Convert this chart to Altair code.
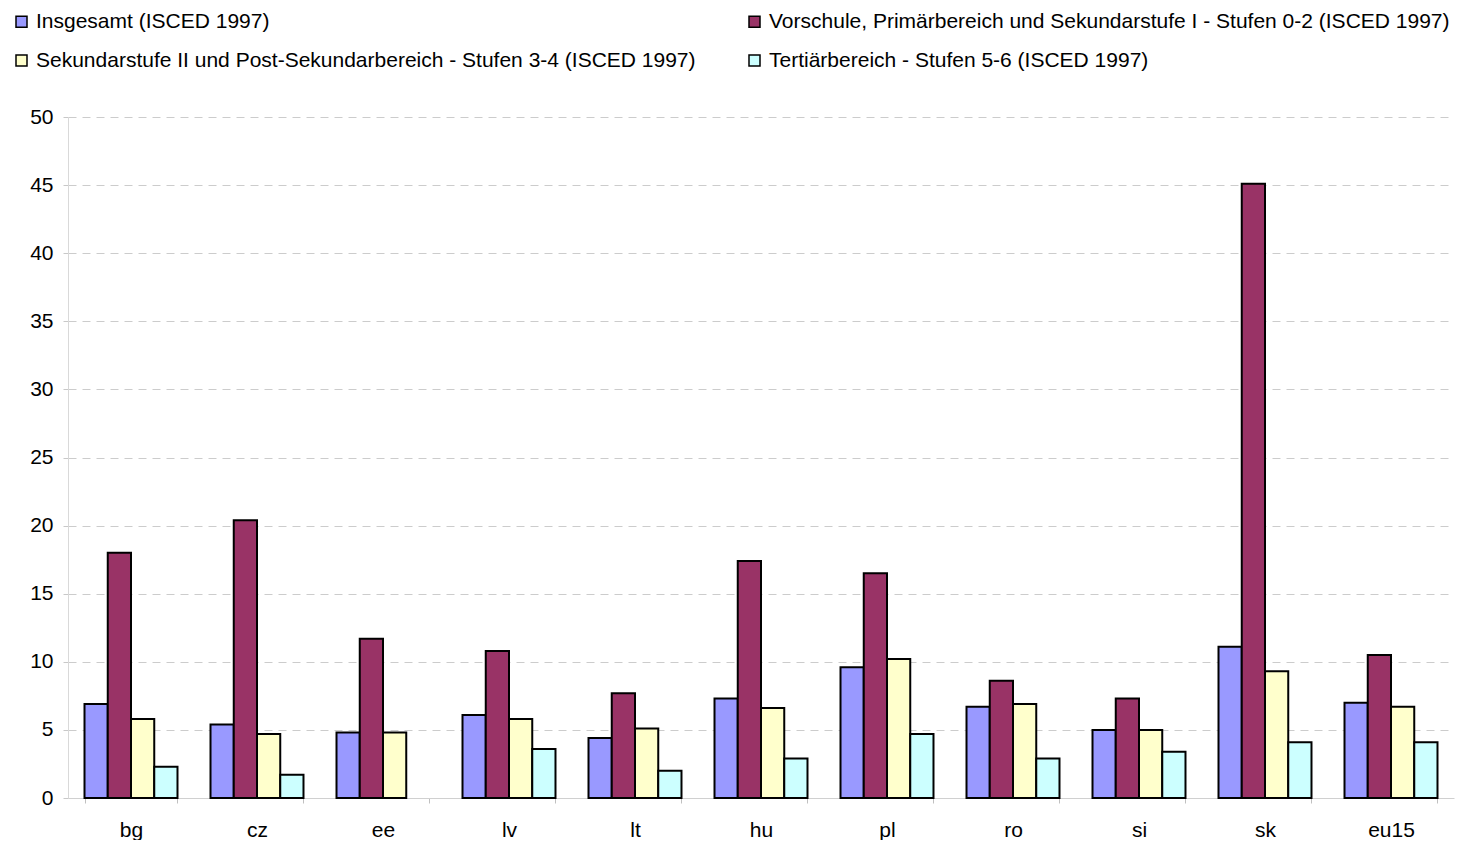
import altair as alt
import pandas as pd

categories = ["bg", "cz", "ee", "lv", "lt", "hu", "pl", "ro", "si", "sk", "eu15"]
series = [
    "Insgesamt (ISCED 1997)",
    "Vorschule, Primärbereich und Sekundarstufe I - Stufen 0-2 (ISCED 1997)",
    "Sekundarstufe II und Post-Sekundarbereich - Stufen 3-4 (ISCED 1997)",
    "Tertiärbereich - Stufen 5-6 (ISCED 1997)",
]
total = [6.9, 5.4, 4.8, 6.1, 4.4, 7.3, 9.6, 6.7, 5.0, 11.1, 7.0]
pre02 = [18.0, 20.4, 11.7, 10.8, 7.7, 17.4, 16.5, 8.6, 7.3, 45.1, 10.5]
sec34 = [5.8, 4.7, 4.8, 5.8, 5.1, 6.6, 10.2, 6.9, 5.0, 9.3, 6.7]
ter56 = [2.3, 1.7, None, 3.6, 2.0, 2.9, 4.7, 2.9, 3.4, 4.1, 4.1]
colors = ["#9999FF", "#993366", "#FFFFCC", "#CCFFFF"]
y_ticks = [0, 5, 10, 15, 20, 25, 30, 35, 40, 45, 50]

# legend is laid out column by column: reorder so rows read like the reference
legend_order = [series[0], series[2], series[1], series[3]]
legend_colors = [colors[0], colors[2], colors[1], colors[3]]

rows = []
for s, vals in zip(series, [total, pre02, sec34, ter56]):
    for c, v in zip(categories, vals):
        if v is not None:
            rows.append({"Land": c, "Reihe": s, "Wert": v})
df = pd.DataFrame(rows)

FONT = "Liberation Sans"
FS = 21

chart = alt.Chart(df).mark_bar(stroke="black", strokeWidth=2).encode(
    x=alt.X(
        "Land:N",
        sort=categories,
        scale=alt.Scale(paddingInner=0.262, paddingOuter=0.131),
        axis=alt.Axis(
            title=None,
            tickBand="extent",
            labelAngle=0,
            labelFontSize=FS,
            labelFont=FONT,
            labelColor="black",
            labelPadding=16,
            tickSize=5,
            tickColor="#c0c0c0",
            domainColor="#d0d0d0",
            grid=False,
        ),
    ),
    xOffset=alt.XOffset("Reihe:N", sort=series, scale=alt.Scale(domain=series, paddingInner=0, paddingOuter=0)),
    y=alt.Y(
        "Wert:Q",
        scale=alt.Scale(domain=[0, 50], nice=False),
        axis=alt.Axis(
            title=None,
            values=y_ticks,
            labelFontSize=FS,
            labelFont=FONT,
            labelColor="black",
            labelPadding=10,
            tickSize=5,
            tickColor="#c8c8c8",
            domainColor="#d9d9d9",
            grid=True,
            gridColor="#cccccc",
            gridDash=[8, 6],
        ),
    ),
    color=alt.Color(
        "Reihe:N",
        scale=alt.Scale(domain=legend_order, range=legend_colors),
        legend=alt.Legend(
            title=None,
            orient="none",
            legendX=-57,
            legendY=-106,
            columns=2,
            symbolType="square",
            symbolSize=121,
            symbolStrokeColor="black",
            symbolStrokeWidth=1.5,
            labelFontSize=FS,
            labelFont=FONT,
            labelColor="black",
            labelLimit=2000,
            labelOffset=4,
            columnPadding=48,
            rowPadding=17,
            padding=0,
        ),
    ),
).properties(
    width=1386,
    height=681,
    autosize=alt.AutoSizeParams(type="none"),
    padding={"left": 60, "top": 109, "right": 15, "bottom": 42},
).configure_view(stroke=None)

chart.save("out.html", embed_options={"renderer": "svg", "actions": False})
